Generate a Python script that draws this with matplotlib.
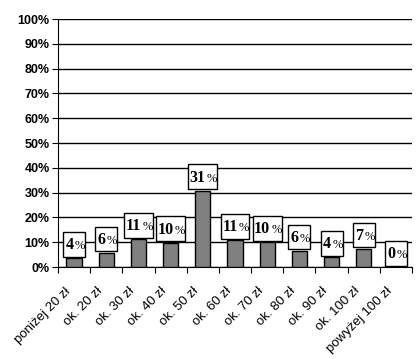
import matplotlib
matplotlib.use("Agg")
import matplotlib.pyplot as plt
from matplotlib.patches import Rectangle
import numpy as np

categories = ["poniżej 20 zł", "ok. 20 zł", "ok. 30 zł", "ok. 40 zł", "ok. 50 zł",
              "ok. 60 zł", "ok. 70 zł", "ok. 80 zł", "ok. 90 zł", "ok. 100 zł",
              "powyżej 100 zł"]
values = [3.6, 5.7, 11.2, 9.8, 30.8, 10.9, 10.0, 6.5, 4.0, 7.3, 0.0]
labels = ["4", "6", "11", "10", "31", "11", "10", "6", "4", "7", "0"]
yticks = np.arange(0, 101, 10)

fig = plt.figure(figsize=(4.2, 3.59), dpi=100)
ax = fig.add_axes([0.138, 0.256, 0.843, 0.691])

x = np.arange(len(categories))
ax.bar(x, values, width=0.47, color="#808080", edgecolor="black", linewidth=1, zorder=3)

# value boxes: number in bold serif, narrower % sign
px = 72 / fig.dpi  # one pixel in points
for xi, v, lab in zip(x, values, labels):
    nd = len(lab)
    w = 0.466 + 0.217 * nd
    ax.add_patch(Rectangle((xi - w / 2, v + 0.6), w, 10, fc="white", ec="black",
                           lw=1, zorder=4))
    split = (7 * nd - 8) / 2 * px
    ax.annotate(lab, (xi, v + 3.6), xytext=(split, 0), textcoords="offset points",
                ha="right", va="baseline", fontsize=11.5, fontweight="bold",
                family="Liberation Serif", zorder=5)
    ax.annotate("%", (xi, v + 3.6), xytext=(split + 0.8, 0), textcoords="offset points",
                ha="left", va="baseline", fontsize=9,
                family="Liberation Serif", zorder=5)

ax.set_xlim(-0.5, len(categories) - 0.5)
ax.set_ylim(0, 100)
ax.set_yticks(yticks)
ax.set_yticklabels([f"{t}%" for t in yticks], fontsize=9, fontweight="bold",
                   family="Liberation Sans")
ax.yaxis.grid(True, color="black", lw=1)
ax.set_axisbelow(True)

# category labels, rotated, placed below the axis
ax.set_xticks(np.arange(len(categories) + 1) - 0.5)
ax.set_xticklabels([])
for xi, cat in zip(x, categories):
    ax.annotate(cat, (xi, 0), xycoords=("data", "axes fraction"),
                xytext=(-10 * px, -18 * px), textcoords="offset points",
                rotation=45, ha="right", va="top", rotation_mode="anchor",
                fontsize=9.5, family="Liberation Sans", annotation_clip=False)
ax.tick_params(axis="x", length=4, direction="out")
ax.tick_params(axis="y", length=4, direction="out", pad=2)

ax.spines["top"].set_visible(False)
ax.spines["right"].set_visible(False)

fig.savefig("out.png", dpi=100)
